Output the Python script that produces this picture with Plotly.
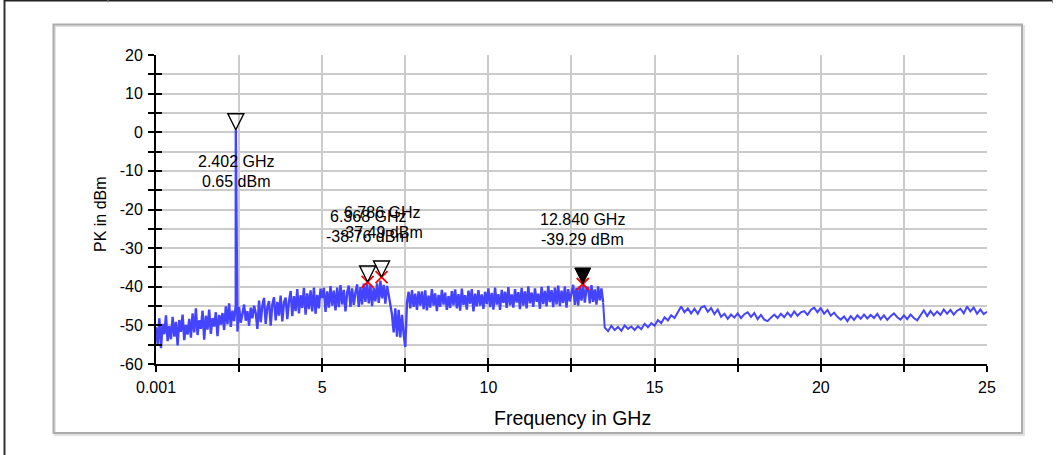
import numpy as np
import plotly.graph_objects as go

# ---------------- data ----------------
# sweep segment 1: 0.001 GHz .. 13.451 GHz, one reading every 0.05 GHz
seg1_start_ghz = 0.001
seg1_step_ghz = 0.05
seg1_level_dbm = [
    # 0-1 GHz
    -50.5, -54.8, -48.2, -55.9, -49.6, -52.3, -47.4, -54.1, -50.2, -53.6,
    -47.8, -52.9, -49.1, -55.2, -48.6, -51.7, -47.2, -53.8, -49.9, -52.4,
    # 1-2 GHz
    -48.3, -53.2, -46.9, -51.8, -45.6, -52.5, -48.7, -50.9, -46.2, -53.7,
    -47.5, -51.1, -45.9, -52.2, -48.1, -50.3, -46.6, -52.8, -47.3, -49.8,
    # 2-3 GHz
    -46.8, -51.2, -45.1, -49.7, -44.3, -50.4, -46.2, -48.9, -44.8, -51.6,
    -45.2, -49.3, -47.1, -44.6, -48.8, -46.3, -50.1, -45.4, -48.2, -44.9,
    # 3-4 GHz
    -46.8, -50.9, -43.6, -49.2, -44.9, -42.9, -49.6, -45.3, -43.7, -50.1,
    -44.6, -42.7, -48.7, -43.9, -47.5, -42.3, -49.0, -44.1, -42.8, -48.4,
    # 4-5 GHz
    -43.8, -41.1, -47.6, -42.4, -46.3, -40.6, -46.9, -42.2, -45.5, -40.3,
    -47.2, -41.7, -45.8, -40.9, -46.4, -40.2, -47.0, -42.1, -45.6, -40.5,
    # 5-6 GHz
    -42.9, -40.3, -46.5, -41.2, -45.4, -39.8, -44.9, -41.0, -46.1, -40.2,
    -45.3, -39.6, -44.6, -40.8, -46.4, -41.5, -39.7, -45.2, -40.4, -44.7,
    # 6-7 GHz
    -41.5, -39.4, -45.2, -40.1, -44.6, -39.2, -43.9, -38.9, -44.3, -39.6,
    -45.0, -40.3, -43.8, -39.1, -44.2, -38.4, -43.0, -39.5, -44.4, -39.8,
    # 7-8 GHz
    -42.1, -44.8, -47.2, -51.8, -45.6, -52.9, -46.0, -53.1, -47.3, -52.2,
    -55.6, -44.1, -41.3, -45.6, -40.9, -45.2, -41.8, -46.0, -41.2, -44.9,
    # 8-9 GHz
    -41.2, -45.8, -40.9, -46.1, -42.3, -45.4, -40.6, -44.9, -41.7, -46.3,
    -42.1, -45.2, -40.8, -44.6, -41.5, -46.0, -42.4, -45.5, -41.1, -44.8,
    # 9-10 GHz
    -40.7, -45.6, -41.9, -46.2, -40.5, -44.7, -42.2, -45.9, -41.0, -44.4,
    -40.6, -46.4, -41.8, -45.1, -40.9, -44.9, -42.0, -45.7, -41.3, -44.5,
    # 10-11 GHz
    -40.4, -45.3, -41.6, -45.9, -40.2, -44.6, -41.9, -46.0, -40.8, -44.2,
    -41.3, -45.5, -40.1, -44.8, -42.0, -45.4, -40.6, -44.1, -41.4, -45.8,
    # 11-12 GHz
    -40.3, -44.9, -41.2, -45.6, -39.9, -44.3, -41.5, -45.2, -40.4, -43.9,
    -41.8, -45.7, -40.0, -44.5, -41.1, -45.1, -39.8, -44.0, -40.9, -45.3,
    # 12-13 GHz
    -40.2, -44.6, -39.7, -45.0, -41.0, -44.2, -39.9, -45.4, -40.6, -43.8,
    -41.2, -39.5, -44.7, -40.3, -44.9, -39.8, -43.6, -39.4, -44.1, -40.5,
    # 13-13.5 GHz
    -40.1, -44.3, -39.6, -43.9, -40.7, -44.6, -39.9, -43.5, -40.4, -44.0,
]

# sweep segment 2: 13.5 GHz .. 25 GHz, one reading every 0.1 GHz
seg2_start_ghz = 13.5
seg2_step_ghz = 0.1
seg2_level_dbm = [
    -50.6, -51.5, -50.1, -51.2, -50.4, -51.4, -50.0, -50.9, -50.3, -51.2,
    -50.2, -51.0, -49.6, -50.5, -49.4, -50.1, -48.6, -49.4, -47.9, -48.7,
    -47.4, -48.1, -46.5, -45.1, -46.6, -45.6, -46.9, -45.7, -47.0, -45.4,
    -45.0, -46.5, -45.5, -47.1, -45.9, -47.8, -47.0, -48.3, -47.2, -48.0,
    -46.9, -48.1, -47.1, -46.6, -47.8, -46.8, -48.4, -47.3, -48.5, -48.9,
    -48.0, -47.2, -48.1, -47.0, -47.9, -46.7, -47.7, -46.4, -47.5, -46.6,
    -46.3, -47.3, -46.0, -45.4, -46.6, -45.5, -47.0, -46.0, -47.5, -46.7,
    -47.8, -48.5, -47.7, -48.9, -47.6, -48.6, -47.4, -48.3, -47.2, -48.2,
    -47.3, -48.1, -47.0, -48.4, -47.4, -48.6, -47.6, -46.9, -47.9, -48.5,
    -47.4, -48.4, -47.2, -48.1, -48.7, -47.4, -46.1, -47.6, -46.3, -47.4,
    -46.4, -47.3, -45.9, -47.0, -46.0, -47.2, -46.2, -45.7, -46.9, -45.1,
    -46.4, -45.4, -47.0, -45.9, -47.1, -46.5,
]

# carrier spike
spike_freq_ghz = [2.402]
spike_level_dbm = [0.65]

# markers
marker_freq_ghz = [2.402, 6.368, 6.786, 12.840]
marker_level_dbm = [0.65, -38.76, -37.49, -39.29]
marker_freq_text = ["2.402 GHz", "6.368 GHz", "6.786 GHz", "12.840 GHz"]
marker_level_text = ["0.65 dBm", "-38.76 dBm", "-37.49 dBm", "-39.29 dBm"]
marker_active = [False, False, False, True]
marker_label_below = [True, False, False, False]
marker_peak_cross = [False, True, True, True]

# axes
x_tick_vals = [0.001, 2.5, 5, 7.5, 10, 12.5, 15, 17.5, 20, 22.5, 25]
x_tick_text = ["0.001", "", "5", "", "10", "", "15", "", "20", "", "25"]
y_tick_vals = [-60, -55, -50, -45, -40, -35, -30, -25, -20, -15, -10, -5, 0, 5, 10, 15, 20]
y_tick_text = ["-60", "", "-50", "", "-40", "", "-30", "", "-20", "", "-10", "", "0", "", "10", "", "20"]
x_title = "Frequency in GHz"
y_title = "PK in dBm"

# ---------------- build traces ----------------
seg1_freq = seg1_start_ghz + seg1_step_ghz * np.arange(len(seg1_level_dbm))
seg2_freq = seg2_start_ghz + seg2_step_ghz * np.arange(len(seg2_level_dbm))
f1 = np.concatenate([seg1_freq, np.array(spike_freq_ghz)])
l1 = np.concatenate([np.array(seg1_level_dbm), np.array(spike_level_dbm)])
o1 = np.argsort(f1, kind="stable")
f1, l1 = f1[o1], l1[o1]
# second part starts from the last reading of the first part (the step down)
f2 = np.concatenate([f1[-1:], seg2_freq])
l2 = np.concatenate([l1[-1:], np.array(seg2_level_dbm)])

W, H = 1060, 455
L, R, T, B = 156, 987, 55, 364
FONT = "Arial, Liberation Sans, sans-serif"
BLUE = "#4444ff"


def px(xp):
    return (xp - L) / (R - L)


def py(yp):
    return (B - yp) / (B - T)


fig = go.Figure()
fig.add_trace(go.Scatter(
    x=f1, y=l1, mode="lines", line=dict(color=BLUE, width=2.4),
    hoverinfo="skip", showlegend=False,
))
fig.add_trace(go.Scatter(
    x=f2, y=l2, mode="lines", line=dict(color=BLUE, width=2.0),
    hoverinfo="skip", showlegend=False,
))

# red peak crosses
cx = [f for f, c in zip(marker_freq_ghz, marker_peak_cross) if c]
cy = [v for v, c in zip(marker_level_dbm, marker_peak_cross) if c]
fig.add_trace(go.Scatter(
    x=cx, y=cy, mode="markers",
    marker=dict(symbol="x-thin-open", size=12, color="red", line=dict(color="red", width=1.8)),
    hoverinfo="skip", showlegend=False,
))

# marker triangles (tip on the marker level)
ox = [f for f, a in zip(marker_freq_ghz, marker_active) if not a]
oy = [v for v, a in zip(marker_level_dbm, marker_active) if not a]
fig.add_trace(go.Scatter(
    x=ox, y=oy, mode="markers",
    marker=dict(symbol="arrow-down-open", size=16, color="black", line=dict(color="black", width=1.4)),
    hoverinfo="skip", showlegend=False,
))
ax_ = [f for f, a in zip(marker_freq_ghz, marker_active) if a]
ay_ = [v for v, a in zip(marker_level_dbm, marker_active) if a]
fig.add_trace(go.Scatter(
    x=ax_, y=ay_, mode="markers",
    marker=dict(symbol="arrow-down", size=16, color="black", line=dict(color="black", width=1)),
    hoverinfo="skip", showlegend=False,
))

# empty trace so the overlay axes (inner tick halves) exist
fig.add_trace(go.Scatter(x=[], y=[], xaxis="x2", yaxis="y2", showlegend=False, hoverinfo="skip"))

annotations = []
for f, v, ft, lt, below in zip(marker_freq_ghz, marker_level_dbm, marker_freq_text,
                               marker_level_text, marker_label_below):
    s1, s2 = (-32, -52) if below else (65, 45)
    for txt, s in ((ft, s1), (lt, s2)):
        annotations.append(dict(
            x=f, y=v, xref="x", yref="y", text=txt, showarrow=False,
            xanchor="center", yanchor="middle", yshift=s,
            font=dict(family=FONT, size=16, color="black"),
        ))

annotations.append(dict(
    x=px(572), y=py(418), xref="paper", yref="paper", text=x_title, showarrow=False,
    xanchor="center", yanchor="middle", font=dict(family=FONT, size=19.5, color="black"),
))
annotations.append(dict(
    x=px(100.5), y=py(214.5), xref="paper", yref="paper", text=y_title, showarrow=False,
    xanchor="center", yanchor="middle", textangle=-90,
    font=dict(family=FONT, size=16, color="black"),
))

shapes = [
    # outer frame
    dict(type="line", xref="paper", yref="paper", x0=px(4.5), x1=px(4.5), y0=py(0), y1=py(455),
         line=dict(color="#333333", width=2)),
    dict(type="line", xref="paper", yref="paper", x0=px(4), x1=px(1053), y0=py(0.7), y1=py(0.7),
         line=dict(color="#222222", width=1.5)),
    dict(type="line", xref="paper", yref="paper", x0=px(108), x1=px(108), y0=py(0), y1=py(2.5),
         line=dict(color="#888888", width=1)),
    dict(type="line", xref="paper", yref="paper", x0=px(1052.5), x1=px(1052.5), y0=py(0), y1=py(3),
         line=dict(color="#888888", width=1)),
    # inner panel shadow and border
    dict(type="rect", xref="paper", yref="paper", x0=px(55), x1=px(1024), y0=py(435), y1=py(26),
         line=dict(color="#e2e2e2", width=2), layer="below"),
    dict(type="rect", xref="paper", yref="paper", x0=px(53.5), x1=px(1022), y0=py(433), y1=py(24.5),
         line=dict(color="#acacac", width=2), layer="below"),
]

axis_common = dict(
    showline=True, linecolor="black", linewidth=2,
    ticks="outside", ticklen=6, tickwidth=2, tickcolor="black",
    zeroline=False, showgrid=True, gridcolor="#cbcbcb", gridwidth=2,
    tickfont=dict(family=FONT, size=16, color="black"),
    mirror=False, tickmode="array",
)

xa = dict(axis_common)
xa.update(range=[0.001, 25], tickvals=x_tick_vals, ticktext=x_tick_text, ticklabelstandoff=2)
ya = dict(axis_common)
ya.update(range=[-60, 20], tickvals=y_tick_vals, ticktext=y_tick_text, ticklabelstandoff=2)

fig.update_layout(
    width=W, height=H,
    margin=dict(l=L, r=W - R, t=T, b=H - B, pad=0),
    paper_bgcolor="white", plot_bgcolor="white",
    xaxis=xa, yaxis=ya,
    xaxis2=dict(overlaying="x", anchor="y2", range=[0.001, 25], tickmode="array", tickvals=x_tick_vals,
                ticks="inside", ticklen=6, tickwidth=2, tickcolor="black",
                showticklabels=False, showgrid=False, zeroline=False, showline=False),
    yaxis2=dict(overlaying="y", anchor="x2", side="left", range=[-60, 20], tickmode="array",
                tickvals=y_tick_vals, ticks="inside", ticklen=6, tickwidth=2, tickcolor="black",
                showticklabels=False, showgrid=False, zeroline=False, showline=False),
    annotations=annotations, shapes=shapes,
    showlegend=False,
    font=dict(family=FONT, size=16, color="black"),
)

fig.write_html("out.html")
